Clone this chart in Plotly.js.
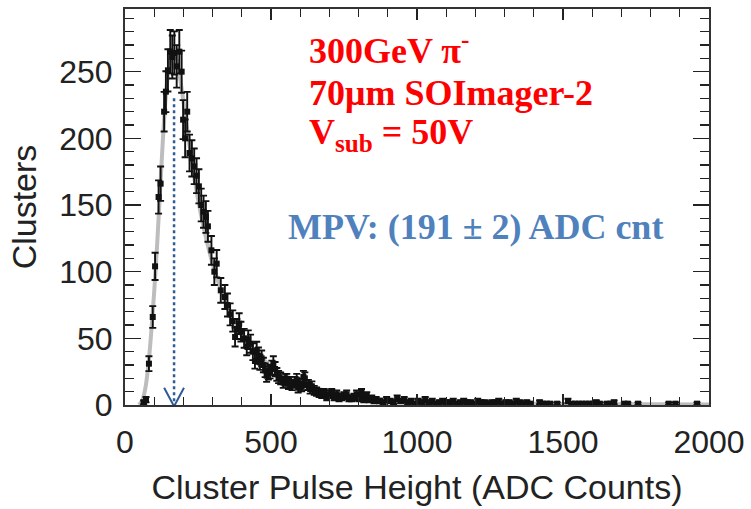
<!DOCTYPE html>
<html><head><meta charset="utf-8">
<script src="https://cdn.plot.ly/plotly-3.0.1.min.js"></script>
<style>body{margin:0;background:#fff}</style>
</head><body><div id="chart" style="width:751px;height:509px"></div>
<script>
// Histogram points (bin centre in ADC counts, clusters per bin)
const adcCenters = [64,72,82,95,103,115,122,134,140,147,155,162,169,177,186,194,199,206,213,221,229,237,245,253,261,269,277,284,296,306,314,328,342,351,360,369,377,383,391,397,408,417,422,430,438,445,451,457,462,468,474,480,485,491,497,503,508,514,520,526,533,542,548,554,560,565,572,582,588,593,599,605,611,616,622,628,634,640,648,656,665,674,682,691,700,708,717,725,733,742,750,759,767,776,784,793,801,810,818,828,836,845,853,
860,872,884,896,908,920,932,944,956,968,980,992,1004,1016,1028,1040,1052,1064,1076,1088,1100,1112,1124,1136,1148,1160,1172,1184,1196,1208,1220,1232,1244,1256,1268,1280,1292,1304,1316,1328,1340,1352,1364,1376,1388,
1420,1432,1444,1456,1480,1517,1530,1542,1554,1566,1578,1590,1602,1614,1626,1650,1662,1675,1710,1722,1757,1862,1885,1959];
const clusterCounts = [2,4,31,66,104,156,166,220,235,251,265,261,264,254,265,250,214,200,220,189,185,179,172,164,150,145,141,134,116,100,106,86,81,75,68,63,51,57,61,55,50,44,49,46,40,33,41,37,32,35,30,26,22,24,25,28,31,27,23,21,20,17,19,19,16,17,15,17,19,13,16,14,21,20,15,15,12,14,11,10,9,8,9,6,8,9,6,8,5,6,7,8,5,5,6,8,5,9,4,7,4,5,3,
4,3,2,4,3,2,5,3,4,2,3,1,3,2,4,2,3,1,2,3,2,2,3,1,2,3,2,2,1,3,2,2,1,2,2,3,1,2,2,1,3,2,1,2,1,
2,1,1,1,1,3,1,1,1,1,1,1,1,2,1,1,1,2,1,1,1,1,1,1];
// Fitted curve
const fitX = [48,60,70,80,90,100,110,120,130,140,150,160,170,180,190,200,210,220,230,240,260,280,300,320,340,360,380,400,425,450,475,500,550,600,650,700,750,800,900,1000,1100,1200,1400,1600,1800,2000];
const fitY = [0,4,13,30,55,85,120,160,200,232,252,262,263,256,243,228,212,196,181,167,143,123,106,92,79,68,59,52,45,39,34,29,22,17,13,10,8,6,4,3,2,1.5,1,0.7,0.5,0.4];
// MPV marker
const mpvX = 168, mpvTop = 230, arrowHalf = 34, arrowDepth = 13, arrowTip = -1;

const axisFont = {family:'"Liberation Sans", Arial, sans-serif', size:32, color:'#222'};
const titleFont = {family:'"Liberation Sans", Arial, sans-serif', size:34, color:'#222'};
const serifRed = {family:'"Liberation Serif", "Times New Roman", serif', size:36, color:'#ff0000'};
const arrowColor = '#2e5c96';

const traces = [
  {x: fitX, y: fitY, mode:'lines', line:{color:'#bdbdbd', width:4, shape:'spline'}, hoverinfo:'skip', cliponaxis:true},
  {x: [mpvX, mpvX], y: [mpvTop, arrowTip+1], mode:'lines', line:{color:arrowColor, width:2.5, dash:'dot'}, cliponaxis:false},
  {x: [mpvX-arrowHalf, mpvX, mpvX+arrowHalf], y: [arrowDepth, arrowTip, arrowDepth], mode:'lines', line:{color:arrowColor, width:2}, cliponaxis:false},
  {x: adcCenters, y: clusterCounts, mode:'markers', type:'scatter',
   marker:{symbol:'square', size:6, color:'#111'},
   error_y:{type:'sqrt', visible:true, color:'#111', thickness:1.9, width:3.5}, cliponaxis:false}
];

const layout = {
  width:751, height:509,
  margin:{l:125, r:42, t:9, b:104},
  paper_bgcolor:'#fff', plot_bgcolor:'#fff',
  showlegend:false,
  xaxis:{range:[0,2000], tickvals:[0,500,1000,1500,2000], ticks:'inside', ticklen:11, tickwidth:1.5, tickcolor:'#222',
    minor:{dtick:100, ticks:'inside', ticklen:8, tickwidth:1.3, tickcolor:'#222'},
    showline:true, linecolor:'#333', linewidth:2, mirror:'allticks', showgrid:false, zeroline:false,
    tickfont:axisFont, ticklabelstandoff:8,
    title:{text:'Cluster Pulse Height (ADC Counts)', font:titleFont, standoff:16}},
  yaxis:{range:[0,297], tickvals:[0,50,100,150,200,250], ticks:'inside', ticklen:16, tickwidth:1.5, tickcolor:'#222',
    minor:{dtick:10, ticks:'inside', ticklen:9, tickwidth:1.3, tickcolor:'#222'},
    showline:true, linecolor:'#333', linewidth:2, mirror:'allticks', showgrid:false, zeroline:false,
    tickfont:axisFont, ticklabelstandoff:4,
    title:{text:'Clusters', font:titleFont, standoff:12}},
  annotations:[
    {xref:'paper', yref:'paper', x:0.3116, y:0.899, xanchor:'left', yanchor:'middle', showarrow:false,
     text:'<b>300GeV π<sup>-</sup></b>', font:serifRed},
    {xref:'paper', yref:'paper', x:0.3116, y:0.787, xanchor:'left', yanchor:'middle', showarrow:false,
     text:'<b>70μm SOImager-2</b>', font:serifRed},
    {xref:'paper', yref:'paper', x:0.3116, y:0.683, xanchor:'left', yanchor:'middle', showarrow:false,
     text:'<b>V<sub>sub</sub> = 50V</b>', font:serifRed},
    {xref:'paper', yref:'paper', x:0.275, y:0.4495, xanchor:'left', yanchor:'middle', showarrow:false,
     text:'<b>MPV: (191 ± 2) ADC cnt</b>', font:{family:'"Liberation Serif", "Times New Roman", serif', size:36, color:'#4f81bd'}}
  ]
};
Plotly.newPlot('chart', traces, layout, {staticPlot:true, displayModeBar:false});
</script></body></html>
